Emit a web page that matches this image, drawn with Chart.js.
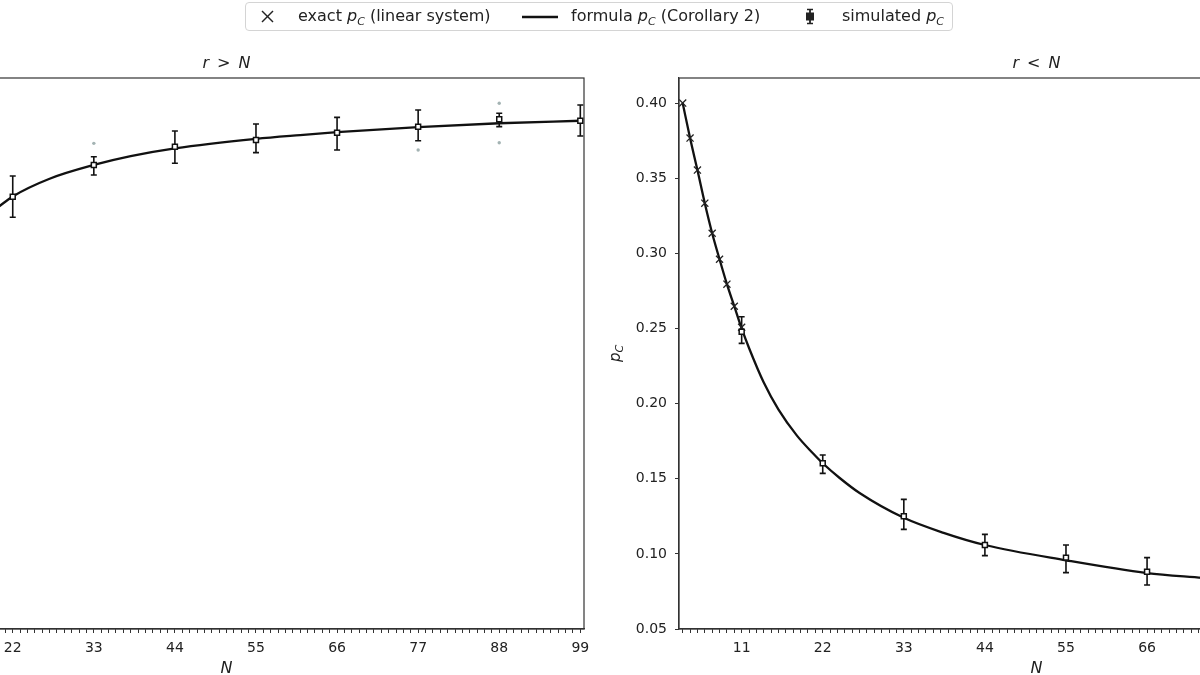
<!DOCTYPE html>
<html>
<head>
<meta charset="utf-8">
<script src="https://cdn.jsdelivr.net/npm/chart.js@4.4.1/dist/chart.umd.min.js"></script>
<style>
html,body{margin:0;padding:0;width:1200px;height:675px;overflow:hidden;background:#fff;font-family:"DejaVu Sans",sans-serif;}
#wrapL{position:absolute;left:-151px;top:0;width:755px;height:678px;}
#wrapR{position:absolute;left:609px;top:0;width:805px;height:678px;}
#legend{position:absolute;left:245px;top:2px;width:708px;height:29px;box-sizing:border-box;border:1px solid #d4d4d4;border-radius:4px;background:rgba(255,255,255,0.85);font-size:16px;color:#222;z-index:5;}
.it{position:absolute;top:4px;line-height:18px;white-space:nowrap;}
.g{position:absolute;}
.pc{font-style:italic;}
.sub{font-size:11px;font-style:italic;position:relative;top:4px;}
</style>
</head>
<body>
<div id="wrapL"><canvas id="cL" width="755" height="678"></canvas></div>
<div id="wrapR"><canvas id="cR" width="805" height="678"></canvas></div>
<div id="legend">
  <svg class="g" style="left:15px;top:7px" width="13" height="13"><line x1="1" y1="1" x2="12" y2="12" stroke="#222" stroke-width="1.4"/><line x1="12" y1="1" x2="1" y2="12" stroke="#222" stroke-width="1.4"/></svg>
  <span class="it" style="left:52px">exact <span class="pc">p</span><span class="sub">C</span> (linear system)</span>
  <svg class="g" style="left:276px;top:12px" width="36" height="4"><line x1="0" y1="2" x2="36" y2="2" stroke="#111" stroke-width="2.4"/></svg>
  <span class="it" style="left:325px">formula <span class="pc">p</span><span class="sub">C</span> (Corollary 2)</span>
  <svg class="g" style="left:558px;top:5px" width="12" height="17"><line x1="6" y1="1" x2="6" y2="16" stroke="#222" stroke-width="1.8"/><line x1="3" y1="1.5" x2="9" y2="1.5" stroke="#222" stroke-width="1.5"/><line x1="3" y1="15.5" x2="9" y2="15.5" stroke="#222" stroke-width="1.5"/><rect x="2" y="4.5" width="8" height="8" fill="#222"/></svg>
  <span class="it" style="left:596px">simulated <span class="pc">p</span><span class="sub">C</span></span>
</div>
<script>
// ---------- data ----------
// x-axis
const X_MIN = 2.5, X_MAX = 99.5;
const X_LABEL_TICKS = [11, 22, 33, 44, 55, 66, 77, 88, 99];
// right panel y ticks
const Y_TICKS_R = [0.05, 0.10, 0.15, 0.20, 0.25, 0.30, 0.35, 0.40];

// left panel: r > N
const L_FORMULA_N = [20, 22, 27, 33, 38, 44, 55, 61, 66, 77, 88, 99];
const L_FORMULA_P = [0.4215, 0.4297, 0.4432, 0.4537, 0.4604, 0.4663, 0.4736, 0.4765, 0.4787, 0.4826, 0.4855, 0.4874];
const L_SIM_N  = [22, 33, 44, 55, 66, 77, 88, 99];
const L_SIM_P  = [0.4295, 0.4537, 0.4676, 0.4727, 0.4783, 0.4829, 0.4885, 0.4874];
const L_SIM_LO = [0.4138, 0.4461, 0.4550, 0.4631, 0.4651, 0.4722, 0.4829, 0.4758];
const L_SIM_HI = [0.4453, 0.4600, 0.4796, 0.4849, 0.4900, 0.4956, 0.4931, 0.4994];
const L_RUNS_N = [33, 77, 88, 88];
const L_RUNS_P = [0.4702, 0.4651, 0.5007, 0.4707];

// right panel: r < N
const R_EXACT_N = [3, 4, 5, 6, 7, 8, 9, 10, 11];
const R_EXACT_P = [0.400, 0.3767, 0.3554, 0.3334, 0.3134, 0.2961, 0.2795, 0.2648, 0.2508];
const R_FORMULA_N = [3, 4, 5, 6, 7, 8, 9, 10, 11, 12, 14, 16, 18.5, 20.7, 22, 24.3, 27, 33, 38.4, 44, 55, 66, 73.5];
const R_FORMULA_P = [0.400, 0.3767, 0.3554, 0.3334, 0.3134, 0.2961, 0.2795, 0.2648, 0.2500, 0.2370, 0.2140, 0.1960, 0.1787, 0.1668, 0.1603, 0.1505, 0.1405, 0.1240, 0.1140, 0.1059, 0.0957, 0.0872, 0.0840];
const R_SIM_N  = [11, 22, 33, 44, 55, 66];
const R_SIM_P  = [0.2478, 0.1603, 0.1250, 0.1059, 0.0975, 0.0881];
const R_SIM_LO = [0.2401, 0.1536, 0.1163, 0.0988, 0.0875, 0.0793];
const R_SIM_HI = [0.2578, 0.1658, 0.1363, 0.1130, 0.1059, 0.0975];

// ---------- styling ----------
const FONT = "'DejaVu Sans', sans-serif";
const TXT = '#222';
const AX = '#333';
const X_TICKS = [];
for (let n = Math.ceil(X_MIN); n <= Math.floor(X_MAX); n++) X_TICKS.push(n);

const pts = (xs, ys) => xs.map((v, i) => ({x: v, y: ys[i]}));

const errorBars = {
  id: 'errorBars',
  beforeDatasetsDraw(chart) {
    const {ctx, chartArea: a, scales: {x, y}} = chart;
    ctx.save();
    ctx.beginPath(); ctx.rect(a.left, a.top, a.right - a.left, a.bottom - a.top); ctx.clip();
    chart.data.datasets.forEach(ds => {
      if (!ds.errLo) return;
      ctx.strokeStyle = '#111'; ctx.lineWidth = 1.6;
      ds.data.forEach((p, j) => {
        const px = x.getPixelForValue(p.x);
        const y1 = y.getPixelForValue(ds.errLo[j]);
        const y2 = y.getPixelForValue(ds.errHi[j]);
        ctx.beginPath();
        ctx.moveTo(px, y1); ctx.lineTo(px, y2);
        ctx.moveTo(px - 3, y1); ctx.lineTo(px + 3, y1);
        ctx.moveTo(px - 3, y2); ctx.lineTo(px + 3, y2);
        ctx.stroke();
      });
    });
    ctx.restore();
  }
};

const frame = {
  id: 'frame',
  afterDraw(chart) {
    const {ctx, chartArea: a} = chart;
    ctx.save();
    ctx.strokeStyle = AX; ctx.lineWidth = 1.2;
    ctx.strokeRect(a.left, a.top, a.right - a.left, a.bottom - a.top);
    ctx.restore();
  }
};

const yTitle = {
  id: 'yTitle',
  afterDraw(chart) {
    const {ctx, chartArea: a} = chart;
    ctx.save();
    ctx.translate(a.left - 63, (a.top + a.bottom) / 2);
    ctx.rotate(-Math.PI / 2);
    ctx.fillStyle = TXT;
    ctx.textBaseline = 'middle';
    ctx.font = "italic 15px 'DejaVu Sans'";
    const w1 = ctx.measureText('p').width;
    ctx.font = "italic 11px 'DejaVu Sans'";
    const w2 = ctx.measureText('C').width;
    const x0 = -(w1 + w2) / 2;
    ctx.font = "italic 15px 'DejaVu Sans'";
    ctx.fillText('p', x0, 0);
    ctx.font = "italic 11px 'DejaVu Sans'";
    ctx.fillText('C', x0 + w1, 4);
    ctx.restore();
  }
};

function xScale() {
  return {
    type: 'linear', min: X_MIN, max: X_MAX,
    afterBuildTicks: s => { s.ticks = X_TICKS.map(v => ({value: v})); },
    afterFit: s => { s.height = 49; },
    ticks: {
      autoSkip: false, maxRotation: 0, minRotation: 0, padding: 7,
      color: TXT, font: {size: 14, family: FONT},
      callback: v => (X_LABEL_TICKS.includes(v) ? String(v) : '')
    },
    grid: {display: true, drawOnChartArea: false, drawTicks: true, tickLength: 4, color: AX, lineWidth: 1},
    border: {display: true, color: AX, width: 1.2},
    title: {display: true, text: 'N', color: TXT, font: {size: 16, style: 'italic', family: FONT}, padding: {top: 0, bottom: 0}}
  };
}

function titleOpts(text) {
  return {
    display: true, text: text, fullSize: false, color: TXT,
    font: {size: 16, style: 'italic', family: FONT, weight: 'normal'},
    padding: {top: 54.4, bottom: 4.4}
  };
}

const commonPlugins = (t) => ({
  legend: {display: false},
  tooltip: {enabled: false},
  title: titleOpts(t)
});

// ---------- left chart ----------
new Chart(document.getElementById('cL'), {
  type: 'scatter',
  data: {
    datasets: [
      {label: 'simulated pC', data: pts(L_SIM_N, L_SIM_P), errLo: L_SIM_LO, errHi: L_SIM_HI,
       pointStyle: 'rect', pointRadius: 3.5, backgroundColor: '#fff', borderColor: '#111', borderWidth: 1.5, showLine: false},
      {label: 'simulation runs', data: pts(L_RUNS_N, L_RUNS_P),
       pointStyle: 'circle', pointRadius: 1.7, backgroundColor: '#a3b3b3', borderColor: '#a3b3b3', borderWidth: 0, showLine: false},
      {label: 'formula pC (Corollary 2)', data: pts(L_FORMULA_N, L_FORMULA_P), showLine: true,
       borderColor: '#111', borderWidth: 2.3, pointRadius: 0, cubicInterpolationMode: 'monotone', fill: false}
    ]
  },
  options: {
    responsive: false, animation: false,
    layout: {padding: {left: 20, right: 20, top: 0, bottom: 0}},
    plugins: commonPlugins('r\u2002>\u2002N'),
    scales: {
      x: xScale(),
      y: {type: 'linear', display: false, min: 0.10, max: 0.52}
    }
  },
  plugins: [errorBars, frame]
});

// ---------- right chart ----------
new Chart(document.getElementById('cR'), {
  type: 'scatter',
  data: {
    datasets: [
      {label: 'simulated pC', data: pts(R_SIM_N, R_SIM_P), errLo: R_SIM_LO, errHi: R_SIM_HI,
       pointStyle: 'rect', pointRadius: 3.5, backgroundColor: '#fff', borderColor: '#111', borderWidth: 1.5, showLine: false},
      {label: 'exact pC (linear system)', data: pts(R_EXACT_N, R_EXACT_P),
       pointStyle: 'crossRot', pointRadius: 5, borderColor: '#222', borderWidth: 1.3, showLine: false},
      {label: 'formula pC (Corollary 2)', data: pts(R_FORMULA_N, R_FORMULA_P), showLine: true,
       borderColor: '#111', borderWidth: 2.3, pointRadius: 0, cubicInterpolationMode: 'monotone', fill: false}
    ]
  },
  options: {
    responsive: false, animation: false,
    layout: {padding: {left: 0, right: 20, top: 0, bottom: 0}},
    plugins: commonPlugins('r\u2002<\u2002N'),
    scales: {
      x: xScale(),
      y: {
        type: 'linear', min: 0.05, max: 0.4167,
        afterBuildTicks: s => { s.ticks = Y_TICKS_R.map(v => ({value: v})); },
        afterFit: s => { s.width = 70; },
        ticks: {padding: 8, color: TXT, font: {size: 14, family: FONT}, callback: v => v.toFixed(2)},
        grid: {display: true, drawOnChartArea: false, drawTicks: true, tickLength: 4, color: AX},
        border: {display: true, color: AX, width: 1.2}
      }
    }
  },
  plugins: [errorBars, frame, yTitle]
});
</script>
</body>
</html>
